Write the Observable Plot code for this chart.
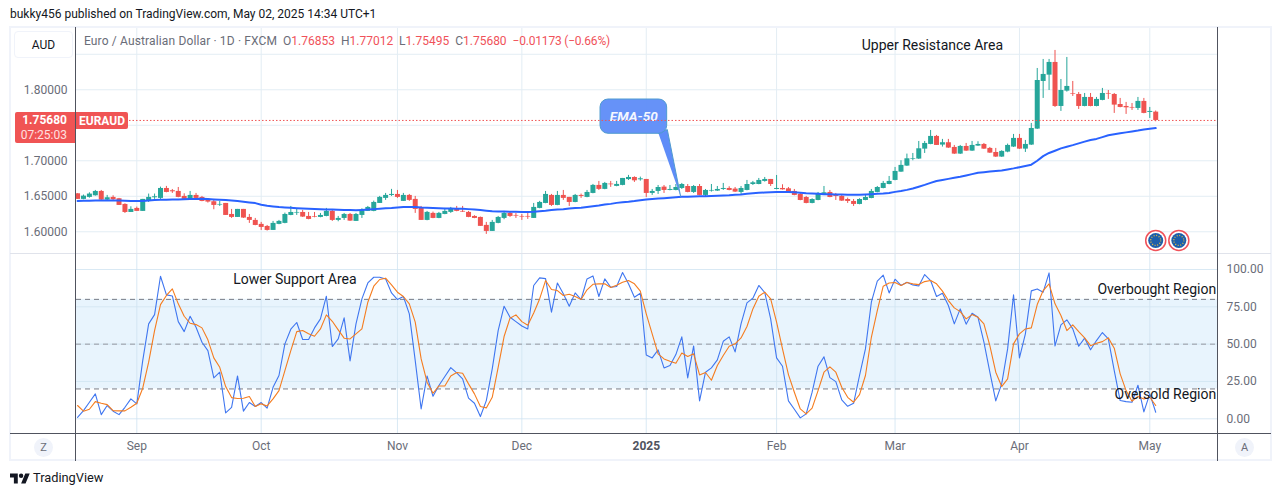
<!DOCTYPE html>
<html>
<head>
<meta charset="utf-8">
<script src="https://cdn.jsdelivr.net/npm/d3@7"></script>
<script src="https://cdn.jsdelivr.net/npm/@observablehq/plot@0.6"></script>
<style>
  html, body { margin: 0; padding: 0; background: #fff; }
  #page { position: relative; width: 1281px; height: 496px; overflow: hidden; font-family: Roboto, sans-serif; color: #131722; }
  #page > * { position: absolute; }
  #price, #stoch { left: 0; width: 1281px; }
  #price { top: 0; height: 254px; }
  #stoch { top: 254px; height: 207px; }
  #price svg, #stoch svg { display: block; background: transparent; }
  .line { background: #50535e; }
  .soft { background: #f0f3fa; }
  .round { width: 19px; height: 19px; border-radius: 50%; background: #f0f3fa; color: #6a6d78; font-size: 11px; line-height: 19px; text-align: center; }
  .v { color: #f0525a; }
</style>
</head>
<body>
<div id="page">
  <div class="soft" style="left:9px;top:26px;width:1263px;height:2px"></div>
  <div class="soft" style="left:9px;top:459px;width:1263px;height:2px"></div>
  <div class="soft" style="left:9px;top:26px;width:2px;height:435px"></div>
  <div class="soft" style="left:1270px;top:26px;width:2px;height:435px"></div>
  <div id="published" style="left:10px;top:7px;font-size:12px;white-space:nowrap">bukky456 published on TradingView.com, May 02, 2025 14:34 UTC+1</div>
  <div id="price"></div>
  <div id="stoch"></div>
  <div style="left:10px;top:253px;width:1261px;height:1px;background:#e0e3eb"></div>
  <div class="line" style="left:75px;top:27px;width:1px;height:434px"></div>
  <div class="line" style="left:1217px;top:27px;width:1px;height:434px"></div>
  <div class="line" style="left:10px;top:433px;width:1261px;height:1px"></div>
  <div style="left:14px;top:31px;width:57px;height:25px;border:1px solid #f0f3fa;border-radius:4px;font-size:12px;line-height:27px;text-align:center">AUD</div>
  <div style="left:84px;top:34px;font-size:12px;white-space:nowrap;color:#6a6d78"><span style="letter-spacing:.14px">Euro / Australian Dollar · 1D · FXCM</span>&nbsp; O<span class="v">1.76853</span>&nbsp; H<span class="v">1.77012</span>&nbsp; L<span class="v">1.75495</span>&nbsp; C<span class="v">1.75680</span>&nbsp; <span class="v" style="letter-spacing:-.2px">−0.01173 (−0.66%)</span></div>
  <div style="left:15px;top:112px;width:52px;height:30px;padding:1px 8px 0 0;background:#f05454;border-radius:2px 0 0 2px;color:#fff;font-size:12px;font-weight:700;line-height:15px;text-align:right">1.75680<br><span style="font-weight:400;color:#ffe0e0">07:25:03</span></div>
  <div style="left:76px;top:112px;width:52px;height:17px;background:#f05454;border-radius:0 2px 2px 0;color:#fff;font-size:12px;font-weight:700;line-height:19px;text-align:center">EURAUD</div>
  <div class="round" style="left:34px;top:438px">Z</div>
  <div class="round" style="left:1235px;top:438px">A</div>
  <svg style="left:10px;top:473px" width="20" height="11" viewBox="0 0 36 18"><path d="M14 18H7V7H0V0h14v18zM28 18h-8L27.500 0h8L28 18z" fill="#131722"/><circle cx="20" cy="4" r="4" fill="#131722"/></svg>
  <div style="left:33px;top:470px;font-size:12.800px;line-height:16px;color:#131722">TradingView</div>
</div>
<script>
// daily EURAUD candles, one entry per session
const opens = [1.6535,1.6456,1.6484,1.6507,1.6568,1.6446,1.6484,1.6465,1.6385,1.6272,
  1.6329,1.6287,1.6427,1.6479,1.6470,1.6610,1.6578,1.6568,1.6498,1.6456,
  1.6512,1.6484,1.6441,1.6423,1.6376,1.6399,1.6244,1.6202,1.6315,1.6202,
  1.6160,1.6104,1.6075,1.6019,1.6104,1.6118,1.6230,1.6263,1.6272,1.6216,
  1.6211,1.6202,1.6216,1.6287,1.6160,1.6188,1.6244,1.6146,1.6230,1.6287,
  1.6287,1.6399,1.6470,1.6512,1.6526,1.6428,1.6512,1.6456,1.6338,1.6160,
  1.6259,1.6188,1.6244,1.6273,1.6324,1.6287,1.6273,1.6216,1.6202,1.6090,
  1.6005,1.6118,1.6188,1.6259,1.6230,1.6216,1.6216,1.6188,1.6329,1.6399,
  1.6512,1.6371,1.6512,1.6484,1.6413,1.6512,1.6484,1.6540,1.6653,1.6597,
  1.6672,1.6639,1.6653,1.6735,1.6765,1.6732,1.6737,1.6540,1.6568,1.6629,
  1.6582,1.6582,1.6610,1.6638,1.6554,1.6638,1.6512,1.6573,1.6573,1.6596,
  1.6610,1.6601,1.6554,1.6582,1.6666,1.6666,1.6709,1.6737,1.6596,1.6610,
  1.6605,1.6568,1.6526,1.6483,1.6399,1.6441,1.6526,1.6554,1.6512,1.6498,
  1.6455,1.6427,1.6385,1.6441,1.6469,1.6554,1.6610,1.6666,1.6723,1.6840,
  1.6925,1.7019,1.7024,1.7164,1.7230,1.7343,1.7221,1.7254,1.7188,1.7094,
  1.7202,1.7136,1.7207,1.7230,1.7174,1.7117,1.7052,1.7122,1.7193,1.7315,
  1.7164,1.7221,1.7446,1.8117,1.8206,1.8385,1.7765,1.7981,1.7943,1.7934,
  1.7765,1.7892,1.7765,1.7850,1.7948,1.7934,1.7793,1.7765,1.7751,1.7737,1.7836,1.7681,1.76853]
const closes = [1.6456,1.6502,1.6531,1.6568,1.6446,1.6479,1.6451,1.6371,1.6272,1.6315,
  1.6287,1.6456,1.6484,1.6493,1.6610,1.6554,1.6563,1.6484,1.6456,1.6512,
  1.6470,1.6427,1.6418,1.6371,1.6385,1.6230,1.6202,1.6315,1.6193,1.6160,
  1.6089,1.6061,1.6019,1.6118,1.6146,1.6244,1.6272,1.6272,1.6207,1.6174,
  1.6202,1.6230,1.6287,1.6160,1.6188,1.6244,1.6150,1.6244,1.6301,1.6343,
  1.6413,1.6484,1.6512,1.6526,1.6484,1.6512,1.6442,1.6315,1.6160,1.6273,
  1.6188,1.6259,1.6287,1.6315,1.6287,1.6277,1.6202,1.6188,1.6076,1.6005,
  1.6132,1.6202,1.6259,1.6216,1.6221,1.6207,1.6207,1.6343,1.6413,1.6526,
  1.6371,1.6512,1.6470,1.6413,1.6512,1.6498,1.6554,1.6653,1.6597,1.6681,
  1.6662,1.6667,1.6751,1.6765,1.6718,1.6746,1.6540,1.6568,1.6624,1.6582,
  1.6596,1.6624,1.6666,1.6554,1.6638,1.6512,1.6582,1.6582,1.6596,1.6610,
  1.6582,1.6559,1.6610,1.6666,1.6690,1.6723,1.6737,1.6666,1.6610,1.6591,
  1.6549,1.6512,1.6441,1.6399,1.6455,1.6540,1.6549,1.6483,1.6498,1.6432,
  1.6427,1.6385,1.6455,1.6483,1.6568,1.6624,1.6681,1.6709,1.6850,1.6935,
  1.7028,1.7028,1.7169,1.7244,1.7343,1.7216,1.7254,1.7179,1.7094,1.7202,
  1.7136,1.7216,1.7230,1.7164,1.7108,1.7052,1.7132,1.7216,1.7315,1.7164,
  1.7230,1.7455,1.8131,1.8216,1.8385,1.7765,1.7990,1.8047,1.7934,1.7765,
  1.7892,1.7765,1.7864,1.7948,1.7939,1.7784,1.7751,1.7746,1.7742,1.7836,1.7667,1.7695,1.75680]
const highs = [1.6535,1.6517,1.6549,1.6582,1.6582,1.6512,1.6507,1.6470,1.6394,1.6352,
  1.6348,1.6456,1.6531,1.6531,1.6629,1.6639,1.6596,1.6624,1.6535,1.6568,
  1.6540,1.6498,1.6465,1.6456,1.6427,1.6399,1.6315,1.6315,1.6315,1.6244,
  1.6188,1.6132,1.6089,1.6146,1.6160,1.6263,1.6357,1.6315,1.6301,1.6272,
  1.6272,1.6258,1.6329,1.6301,1.6216,1.6258,1.6258,1.6258,1.6324,1.6357,
  1.6432,1.6498,1.6540,1.6597,1.6582,1.6540,1.6526,1.6498,1.6357,1.6287,
  1.6277,1.6273,1.6329,1.6343,1.6357,1.6357,1.6287,1.6226,1.6207,1.6132,
  1.6160,1.6216,1.6287,1.6273,1.6259,1.6244,1.6259,1.6399,1.6428,1.6568,
  1.6526,1.6568,1.6582,1.6484,1.6526,1.6531,1.6582,1.6667,1.6709,1.6695,
  1.6709,1.6709,1.6751,1.6794,1.6774,1.6770,1.6737,1.6596,1.6652,1.6652,
  1.6652,1.6666,1.6681,1.6666,1.6652,1.6666,1.6596,1.6666,1.6638,1.6681,
  1.6634,1.6624,1.6638,1.6723,1.6709,1.6751,1.6765,1.6737,1.6793,1.6662,
  1.6624,1.6596,1.6540,1.6498,1.6465,1.6554,1.6638,1.6582,1.6540,1.6521,
  1.6474,1.6455,1.6465,1.6512,1.6596,1.6638,1.6709,1.6779,1.6906,1.7000,
  1.7094,1.7103,1.7272,1.7272,1.7427,1.7357,1.7301,1.7301,1.7216,1.7216,
  1.7244,1.7272,1.7268,1.7244,1.7188,1.7174,1.7141,1.7235,1.7371,1.7371,
  1.7286,1.7526,1.8300,1.8427,1.8427,1.8554,1.8145,1.8455,1.8117,1.7962,
  1.7948,1.7948,1.7892,1.8019,1.7990,1.7948,1.7878,1.7822,1.7807,1.7892,1.7878,1.7751,1.77012]
const lows = [1.6456,1.6451,1.6474,1.6502,1.6441,1.6441,1.6432,1.6371,1.6258,1.6272,
  1.6287,1.6287,1.6413,1.6456,1.6456,1.6549,1.6540,1.6479,1.6451,1.6451,
  1.6460,1.6423,1.6404,1.6310,1.6357,1.6230,1.6188,1.6202,1.6188,1.6118,
  1.6085,1.6019,1.6010,1.6019,1.6099,1.6113,1.6226,1.6230,1.6202,1.6169,
  1.6197,1.6197,1.6211,1.6146,1.6141,1.6160,1.6146,1.6146,1.6188,1.6287,
  1.6282,1.6399,1.6442,1.6498,1.6470,1.6428,1.6428,1.6259,1.6160,1.6155,
  1.6184,1.6184,1.6240,1.6259,1.6282,1.6273,1.6198,1.6184,1.6076,1.5963,
  1.6005,1.6113,1.6170,1.6202,1.6188,1.6160,1.6174,1.6188,1.6324,1.6395,
  1.6357,1.6367,1.6442,1.6357,1.6409,1.6470,1.6479,1.6535,1.6582,1.6592,
  1.6625,1.6634,1.6648,1.6723,1.6695,1.6713,1.6483,1.6512,1.6526,1.6540,
  1.6577,1.6577,1.6596,1.6549,1.6540,1.6507,1.6483,1.6559,1.6568,1.6582,
  1.6577,1.6554,1.6526,1.6577,1.6652,1.6662,1.6699,1.6638,1.6591,1.6587,
  1.6544,1.6507,1.6437,1.6394,1.6394,1.6437,1.6521,1.6479,1.6441,1.6427,
  1.6399,1.6357,1.6380,1.6437,1.6465,1.6549,1.6605,1.6662,1.6718,1.6836,
  1.6920,1.7000,1.7019,1.7103,1.7226,1.7216,1.7193,1.7174,1.7089,1.7089,
  1.7132,1.7132,1.7202,1.7160,1.7103,1.7047,1.7047,1.7113,1.7188,1.7160,
  1.7117,1.7216,1.7441,1.7878,1.7990,1.7751,1.7695,1.7967,1.7906,1.7723,
  1.7760,1.7760,1.7760,1.7845,1.7864,1.7667,1.7746,1.7653,1.7709,1.7709,1.7662,1.7596,1.75495]
const ema50 = [1.6434,1.6437,1.6437,1.6439,1.6441,1.6441,1.6441,1.6439,1.6437,1.6434,
  1.6432,1.6432,1.6441,1.6446,1.6451,1.6451,1.6456,1.6456,1.6458,1.6460,
  1.6463,1.6465,1.6460,1.6456,1.6451,1.6446,1.6441,1.6432,1.6423,1.6413,
  1.6404,1.6380,1.6366,1.6357,1.6348,1.6343,1.6338,1.6333,1.6329,1.6324,
  1.6320,1.6317,1.6315,1.6312,1.6310,1.6308,1.6305,1.6303,1.6308,1.6313,
  1.6319,1.6324,1.6330,1.6335,1.6343,1.6348,1.6349,1.6348,1.6342,1.6339,
  1.6336,1.6332,1.6329,1.6327,1.6325,1.6323,1.6319,1.6314,1.6305,1.6297,
  1.6290,1.6287,1.6284,1.6282,1.6281,1.6280,1.6278,1.6282,1.6290,1.6297,
  1.6306,1.6314,1.6316,1.6328,1.6336,1.6340,1.6350,1.6360,1.6370,1.6383,
  1.6393,1.6407,1.6415,1.6423,1.6433,1.6445,1.6455,1.6462,1.6468,1.6473,
  1.6479,1.6486,1.6493,1.6495,1.6497,1.6500,1.6502,1.6505,1.6508,1.6511,
  1.6515,1.6521,1.6526,1.6534,1.6542,1.6549,1.6553,1.6556,1.6559,1.6559,
  1.6559,1.6555,1.6550,1.6544,1.6540,1.6535,1.6530,1.6528,1.6526,1.6524,
  1.6523,1.6522,1.6521,1.6525,1.6530,1.6534,1.6538,1.6546,1.6562,1.6575,
  1.6590,1.6610,1.6635,1.6660,1.6688,1.6715,1.6730,1.6745,1.6760,1.6775,
  1.6793,1.6812,1.6832,1.6840,1.6848,1.6855,1.6863,1.6878,1.6893,1.6910,
  1.6927,1.6945,1.7000,1.7065,1.7110,1.7142,1.7175,1.7197,1.7220,1.7245,
  1.7270,1.7293,1.7308,1.7333,1.7360,1.7375,1.7388,1.7400,1.7412,1.7425,1.7440,1.7452,1.7460]
const stochK = [1,5.5,11.1,16.7,2.8,8.9,5.1,2.8,7.7,13.3,
  10,39,63.6,69.8,95.5,83,82.3,65.1,58.4,68.7,
  61.3,51.3,45.7,27.4,31.2,3.9,7.7,28.7,5.1,10.9,
  8.2,10.9,7.1,21.1,29,50.2,60,64.5,53.1,53.1,
  60.9,66.9,82.1,48.4,53.5,67.6,38.8,63.6,80.3,91,
  94.8,94.8,93.7,84.3,79.9,81.9,70.3,39,6.6,28.7,
  15.1,22.3,28.3,34.3,30.7,26.7,13.8,10.4,1.5,12.2,
  33.4,59.1,75.4,68,65.1,62.2,60.2,89.3,94.4,93.9,
  71.4,91,83.7,75.4,84.3,79.9,93.7,95.7,81.9,93.7,
  88.1,88.6,98,90.4,81.4,84.1,42.8,40.8,46.2,34.1,
  35.7,43,54.9,27.4,48.8,12,31.2,34.1,39.5,51.9,
  54.9,44.8,63.6,77.6,80.8,89.3,84.6,66.9,40.8,35.2,
  12,6.4,0.6,3.3,17.8,35.2,41.5,27.6,24.9,12.7,
  8.4,10.4,29,46.8,78.1,92.2,96.2,84.3,93.5,89.3,
  91.5,89.7,89,96.6,92.6,81.9,84.1,75.9,63.6,73.6,
  63.4,70.7,68,51.3,31.2,12,23.4,46.8,83,40.8,
  56.9,85.7,87,84.8,97.7,48.8,62.9,66.3,60.2,48.6,
  54,46.2,52.4,57.8,53.5,32.3,12.2,11.5,11.1,22.5,4.6,16.7,4.4]
const stochD = [8.9,5.1,6.4,11.5,10.4,9.5,5.5,5.3,5.3,7.7,
  10.4,20.5,37.9,59.1,76.5,82.6,87,77,68.7,64,
  63.1,60.9,52.9,40.8,34.5,21.6,14.2,13.6,13.8,14.9,
  8.2,10,8.6,13.3,18.9,32.3,45.7,58.4,59.1,56.9,
  55.3,60.2,69.6,65.3,59.6,54,53.5,56.9,60.2,78.1,
  88.8,93.3,94.2,89.7,84.8,81.9,77,64.7,40.1,24.5,
  17.1,22,22,28.7,31,30.5,23.4,16.7,8.2,7.3,
  14.4,34.5,55.1,67.4,69.6,65.1,62.7,70.9,80.3,92.6,
  86.6,85.9,82.6,83.4,81.9,79.9,86.4,90.1,90.4,90.4,
  87.9,89.5,91.5,92.6,90.4,85.5,70.3,56.9,43.5,40.1,
  38.6,37.2,44.1,41.7,43.5,29.4,31,25.8,35.7,42.4,
  48.6,50.2,54.2,61.8,73.6,82.1,84.8,80.3,64.7,46.8,
  29.6,17.8,6.6,3.3,7.1,18.9,31.2,34.8,31.2,21.1,
  14.4,11.1,16.2,29,54.6,72.5,88.8,91,91.3,89.3,
  91.3,90.4,89.9,91.9,92.6,90.4,85.5,79.2,74.3,71.8,
  66.9,69.8,68,63.6,49,31.2,21.6,26.7,50.2,56.9,
  60.2,60.9,76.5,85.9,90.4,77,69.2,59.1,62.9,58.4,
  54.2,49,50.6,51.7,54.2,47.3,30.1,18.9,11.8,14.9,13.3,14.4,8.9]

const monthTicks = [10,31,54,75,96,118,138,159,181]
const monthLabels = ["Sep","Oct","Nov","Dec","2025","Feb","Mar","Apr","May"]
const priceGrid = [1.60,1.65,1.70,1.75,1.80,1.85]
const priceLabels = [1.60,1.65,1.70,1.80]
const stochTicks = [0,25,50,75,100]
const lastPrice = 1.7568

const bars = opens.map((o, i) => ({i, open: o, close: closes[i], high: highs[i], low: lows[i], ema: ema50[i], k: stochK[i], d: stochD[i]}))
const xDomain = [-0.179, 192.43]
const font = 'Roboto, sans-serif'
const axisColor = "#6a6d78"
const gridColor = "#e3edf4"
const noteFont = 14

// callout bubble and its tail, in bar index / price units
const bubble = [{x1: 88.28, x2: 99.53, y1: 1.7380, y2: 1.7863}]
const tail = [{x: 98.07, y: 1.7385}, {x: 99.55, y: 1.7440}, {x: 101.8, y: 1.6498}]
const newsDots = [{x: 182, y: 1.5878}, {x: 185.9, y: 1.5878}]

const priceChart = Plot.plot({
  width: 1281,
  height: 254,
  marginTop: 28,
  marginBottom: 1,
  marginLeft: 76,
  marginRight: 64,
  x: {domain: xDomain, axis: null},
  y: {domain: [1.5694, 1.8863]},
  color: {domain: ["up", "down"], range: ["#26a69a", "#ef5350"]},
  style: {fontFamily: font, background: "transparent", overflow: "visible"},
  marks: [
    Plot.ruleY(priceGrid, {stroke: gridColor}),
    Plot.ruleX(monthTicks, {stroke: gridColor}),
    Plot.axisY(priceLabels, {anchor: "left", tickSize: 0, tickPadding: 9, fontSize: 12, color: axisColor, tickFormat: d3.format(".5f"), label: null}),
    Plot.ruleX(bars, {x: "i", y1: "low", y2: "high", stroke: d => d.close >= d.open ? "up" : "down", strokeWidth: 1}),
    Plot.ruleX(bars, {x: "i", y1: "open", y2: "close", stroke: d => d.close >= d.open ? "up" : "down", strokeWidth: 5}),
    Plot.line(bars, {x: "i", y: "ema", stroke: "#2962ff", strokeWidth: 2}),
    Plot.line(tail, {x: "x", y: "y", fill: "#5e8cf8", stroke: "#4f9bd0", strokeWidth: 1, z: null}),
    Plot.rect(bubble, {x1: "x1", x2: "x2", y1: "y1", y2: "y2", rx: 8, fill: "#5e8cf8", stroke: "#4f9bd0", fillOpacity: 0.95}),
    Plot.text(["EMA-50"], {x: 93.9, y: 1.7625, fill: "#f4f7ff", fontSize: 13.5, fontStyle: "italic", fontWeight: 700}),
    Plot.ruleY([lastPrice], {x1: 8.77, x2: xDomain[1], stroke: "#f05454", strokeDasharray: "1.5 2"}),
    Plot.text(["Upper Resistance Area"], {x: 144.3, y: 1.8624, fontSize: noteFont, fill: "#131722"}),
    Plot.dot(newsDots, {x: "x", y: "y", r: 10, fill: "#fff", stroke: "#f0525a", strokeWidth: 1.5}),
    Plot.dot(newsDots, {x: "x", y: "y", r: 7.5, fill: "#1c5eab"}),
    Plot.dot(newsDots, {x: "x", y: "y", r: 5, stroke: "#e8b93c", strokeWidth: 1.3, strokeDasharray: "1 1.6"})
  ]
})

const stochChart = Plot.plot({
  width: 1281,
  height: 207,
  marginTop: 0,
  marginBottom: 27.7,
  marginLeft: 76,
  marginRight: 64,
  x: {domain: xDomain},
  y: {domain: [-10.05, 110.05]},
  style: {fontFamily: font, background: "transparent", overflow: "visible"},
  marks: [
    Plot.rect([{x1: xDomain[0], x2: xDomain[1], y1: 20, y2: 80}], {x1: "x1", x2: "x2", y1: "y1", y2: "y2", fill: "#e8f4fd"}),
    Plot.ruleY(stochTicks, {stroke: "#cfe3f1", strokeOpacity: 0.8}),
    Plot.ruleX(monthTicks, {stroke: "#cfe3f1", strokeOpacity: 0.8}),
    Plot.ruleY([80, 20], {stroke: "#787b86", strokeDasharray: "5 4"}),
    Plot.ruleY([50], {stroke: "#9598a1", strokeDasharray: "5 4"}),
    Plot.axisY(stochTicks, {anchor: "right", tickSize: 0, tickPadding: 9, fontSize: 12, color: axisColor, tickFormat: d3.format(".2f"), label: null}),
    Plot.axisX(monthTicks.filter((d, i) => monthLabels[i] != "2025"), {tickSize: 0, tickPadding: 8, fontSize: 12, color: axisColor, tickFormat: d => monthLabels[monthTicks.indexOf(d)], label: null}),
    Plot.axisX(monthTicks.filter((d, i) => monthLabels[i] == "2025"), {tickSize: 0, tickPadding: 8, fontSize: 12, fontWeight: 700, color: "#50535e", tickFormat: d => monthLabels[monthTicks.indexOf(d)], label: null}),
    Plot.line(bars, {x: "i", y: "k", stroke: "#3f76f0", strokeWidth: 1.1}),
    Plot.line(bars, {x: "i", y: "d", stroke: "#f57c1f", strokeWidth: 1.1}),
    Plot.text(["Lower Support Area"], {x: 36.7, y: 93.3, fontSize: noteFont, fill: "#131722"}),
    Plot.text(["Overbought Region"], {x: 192.2, y: 86.6, textAnchor: "end", fontSize: noteFont, fill: "#131722"}),
    Plot.text(["Oversold Region"], {x: 192.2, y: 16.3, textAnchor: "end", fontSize: noteFont, fill: "#131722"})
  ]
})

document.querySelector("#price").append(priceChart)
document.querySelector("#stoch").append(stochChart)
</script>
</body>
</html>
